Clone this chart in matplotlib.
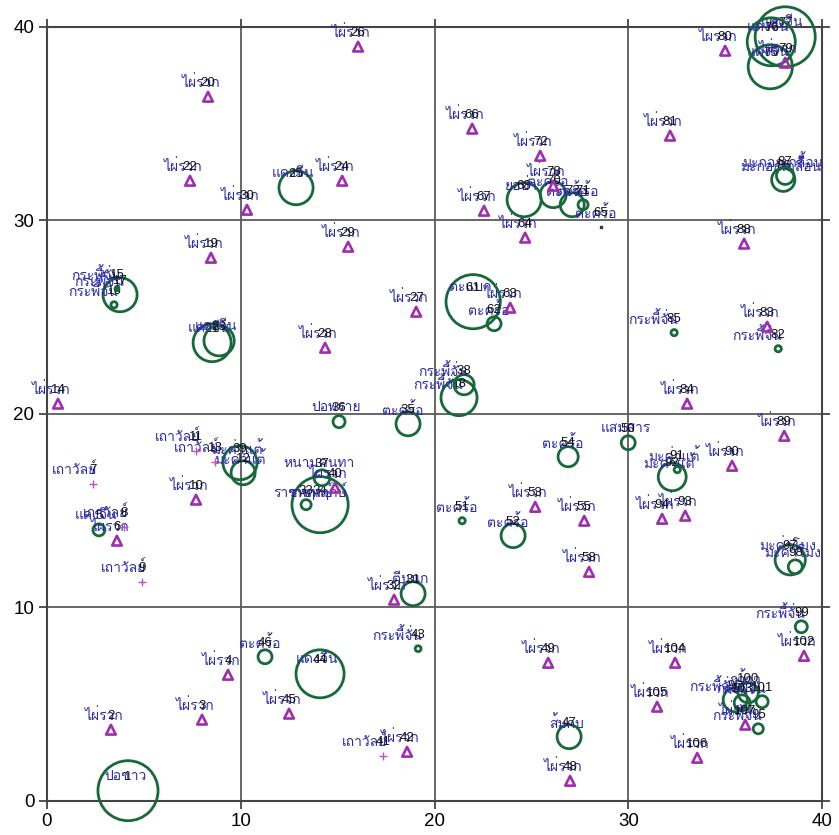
import matplotlib
matplotlib.use('Agg')
from matplotlib import pyplot as plt
from matplotlib import font_manager
from matplotlib.ft2font import FT2Font
from matplotlib.patches import Circle


# find an installed font with Thai glyphs (falls back to DejaVu)
def thai_family():
    for f in font_manager.fontManager.ttflist:
        try:
            if 0x0E44 in FT2Font(f.fname).get_charmap():
                return f.name
        except Exception:
            pass
    return 'DejaVu Sans'


THAI = thai_family()

# =============================================================================
# Stem map data
# =============================================================================
# bamboo clumps (ไผ่รวก)
bamboo_id = [26, 20, 22, 24, 30, 19, 29, 66, 72, 67, 64, 80, 81, 88, 83, 27, 28, 14,
             84, 89, 90, 93, 94, 55, 53, 58, 10, 6, 32, 49, 104, 102, 105, 106, 48,
             42, 45, 4, 3, 2, 107, 79, 78, 63, 40]
bamboo_x = [16.05, 8.31, 7.38, 15.23, 10.32, 8.46, 15.54, 21.94, 25.45, 22.55, 24.67,
            34.99, 32.15, 35.97, 37.16, 19.05, 14.35, 0.57, 33.03, 38.04, 35.35, 32.93,
            31.74, 27.72, 25.19, 27.97, 7.69, 3.61, 17.91, 25.86, 32.41, 39.06, 31.48,
            33.55, 26.99, 18.58, 12.49, 9.34, 8.0, 3.30, 36.03, 38.09, 26.12, 23.90, 14.86]
bamboo_y = [38.97, 36.38, 32.04, 32.04, 30.54, 28.06, 28.63, 34.73, 33.33, 30.49, 29.10,
            38.76, 34.37, 28.79, 24.50, 25.27, 23.41, 20.52, 20.52, 18.86, 17.31, 14.73,
            14.57, 14.47, 15.19, 11.83, 15.56, 13.44, 10.39, 7.13, 7.13, 7.49, 4.86,
            2.22, 1.03, 2.53, 4.50, 6.51, 4.19, 3.67, 3.93, 38.14, 31.78, 25.48, 16.18]

# trees: id, species, position, crown radius (m)
tree_id = [1, 46, 44, 43, 31, 47, 96, 100, 101, 103, 95, 99, 97, 98, 52, 51, 54, 50,
           92, 91, 35, 36, 18, 38, 34, 33, 37, 39, 12, 17, 16, 15, 21, 23, 25, 61, 62,
           68, 70, 73, 71, 77, 75, 76, 86, 87, 85, 82, 5]
tree_sp = ['ปอขาว', 'ตะคร้อ', 'แดงจีน', 'กระพี้จั่น', 'ตีนนก', 'ส้มกบ', 'กระพี้จั่น',
           'กว้าว', 'กระพี้จั่น', 'กว้าว', 'กระพี้จั่น', 'กระพี้จั่น', 'มะค่าโมง', 'มะค่าโมง',
           'ตะคร้อ', 'ตะคร้อ', 'ตะคร้อ', 'แสมสาร', 'มะค่าแต้', 'มะค่าแต้', 'ตะคร้อ',
           'ปอพราย', 'กระพี้จั่น', 'กระพี้จั่น', 'ราชพฤกษ์', 'ราชพฤกษ์', 'หนามคนทา',
           'มะค่าแต้', 'มะค่าแต้', 'กระพี้จั่น', 'กระพี้จั่น', 'กระพี้จั่น', 'แดงจีน',
           'แดงจีน', 'แดงจีน', 'ตะแบก', 'ตะคร้อ', 'ยอป่า', 'ตะคร้อ', 'ตะคร้อ', 'ตะคร้อ',
           'แดงจีน', 'แดงจีน', 'แดงจีน', 'มะกอกเกลื้อน', 'มะกอกเกลื้อน', 'กระพี้จั่น',
           'กระพี้จั่น', 'แดงจีน']
tree_x = [4.18, 11.25, 14.09, 19.15, 18.89, 26.94, 35.51, 36.18, 36.90, 35.87, 36.70,
          38.92, 38.35, 38.61, 24.05, 21.42, 26.89, 29.99, 32.26, 32.52, 18.63, 15.07,
          21.26, 21.52, 14.09, 13.37, 14.19, 9.96, 10.12, 3.77, 3.46, 3.61, 8.52, 8.88,
          12.85, 21.99, 23.07, 24.62, 26.12, 27.10, 27.66, 38.09, 37.32, 37.37, 37.99,
          38.09, 32.36, 37.73, 2.68]
tree_y = [0.52, 7.44, 6.56, 7.86, 10.70, 3.31, 5.22, 5.58, 5.12, 5.06, 3.72, 8.99,
          12.45, 12.09, 13.70, 14.47, 17.78, 18.50, 16.74, 17.11, 19.48, 19.59, 20.83,
          21.50, 15.30, 15.30, 16.69, 17.47, 16.95, 26.15, 25.63, 26.46, 23.67, 23.77,
          31.68, 25.79, 24.65, 31.06, 31.32, 30.80, 30.80, 39.48, 37.93, 39.22, 32.09,
          32.30, 24.19, 23.36, 14.00]
tree_r = [1.55, 0.36, 1.24, 0.15, 0.62, 0.62, 0.62, 0.52, 0.31, 0.41, 0.26, 0.31,
          0.78, 0.36, 0.62, 0.16, 0.52, 0.36, 0.72, 0.16, 0.62, 0.31, 0.93, 0.52,
          1.45, 0.26, 0.41, 0.88, 0.62, 0.88, 0.16, 0.10, 0.98, 0.78, 0.88, 1.40,
          0.36, 0.88, 0.67, 0.62, 0.26, 1.55, 1.14, 1.24, 0.60, 0.45, 0.16, 0.16, 0.31]

# climbers (เถาวัลย์)
vine_id = [8, 7, 9, 41, 11, 13]
vine_x = [3.97, 2.37, 4.90, 17.34, 7.69, 8.67]
vine_y = [14.16, 16.38, 11.32, 2.33, 18.09, 17.52]

# seedling
seed_id = [65]
seed_x = [28.59]
seed_y = [29.66]

# =============================================================================
# Plot
# =============================================================================
NAME_C = '#2a2aa8'
TREE_C = '#17693a'
BAMBOO_C = '#a02cb0'

# thai names drawn a bit left of the point, the number sits on the point
shift = {'ไผ่รวก': -5, 'กระพี้จั่น': -15, 'เถาวัลย์': -13, 'ตะคร้อ': -4}


def label(ax, x, y, name, num):
    dx = shift.get(name, -2)
    ax.annotate(name, (x, y), xytext=(dx, 10), textcoords='offset points',
                ha='center', va='center', fontsize=10, color=NAME_C,
                family=[THAI, 'DejaVu Sans'], annotation_clip=False)
    ax.annotate(str(num), (x, y), xytext=(0, 10), textcoords='offset points',
                ha='center', va='center', fontsize=9.5, color='#111111',
                family=['Liberation Sans', 'DejaVu Sans'], annotation_clip=False)


fig = plt.figure(figsize=[8.39, 8.35], dpi=100)
ax = fig.add_axes([0.056, 0.041, 0.924, 0.927])
ax.set_xlim(0, 40)
ax.set_ylim(0, 40)

# grid lines
for v in [10, 20, 30]:
    ax.axvline(v, color='#5a5a5a', lw=1.3, zorder=1)
    ax.axhline(v, color='#5a5a5a', lw=1.3, zorder=1)

# trees as crown circles
for i in range(len(tree_id)):
    ax.add_patch(Circle((tree_x[i], tree_y[i]), tree_r[i], fill=False,
                        ec=TREE_C, lw=2.0, clip_on=False, zorder=3))
    label(ax, tree_x[i], tree_y[i], tree_sp[i], tree_id[i])

ax.scatter(bamboo_x, bamboo_y, marker='^', s=48, facecolors='none',
           edgecolors=BAMBOO_C, linewidths=1.9, zorder=4, clip_on=False)
for i in range(len(bamboo_id)):
    label(ax, bamboo_x[i], bamboo_y[i], 'ไผ่รวก', bamboo_id[i])

ax.scatter(vine_x, vine_y, marker='+', s=30, color='#c050c0', linewidths=1.0, zorder=4)
for i in range(len(vine_id)):
    label(ax, vine_x[i], vine_y[i], 'เถาวัลย์', vine_id[i])

ax.scatter(seed_x, seed_y, marker='s', s=4, color='#1b4b2c', zorder=4)
for i in range(len(seed_id)):
    label(ax, seed_x[i], seed_y[i], 'ตะคร้อ', seed_id[i])

# frame and ticks on all sides
for s in ax.spines.values():
    s.set_color('#444444')
    s.set_linewidth(1.5)
ax.set_xticks([0, 10, 20, 30, 40])
ax.set_yticks([0, 10, 20, 30, 40])
ax.tick_params(direction='out', length=6, width=1.3, color='#444444',
               top=True, right=True, labelsize=13.5, pad=3)
for t in ax.get_xticklabels() + ax.get_yticklabels():
    t.set_family(['Liberation Sans', 'DejaVu Sans'])

plt.savefig('out.png', dpi=100)
